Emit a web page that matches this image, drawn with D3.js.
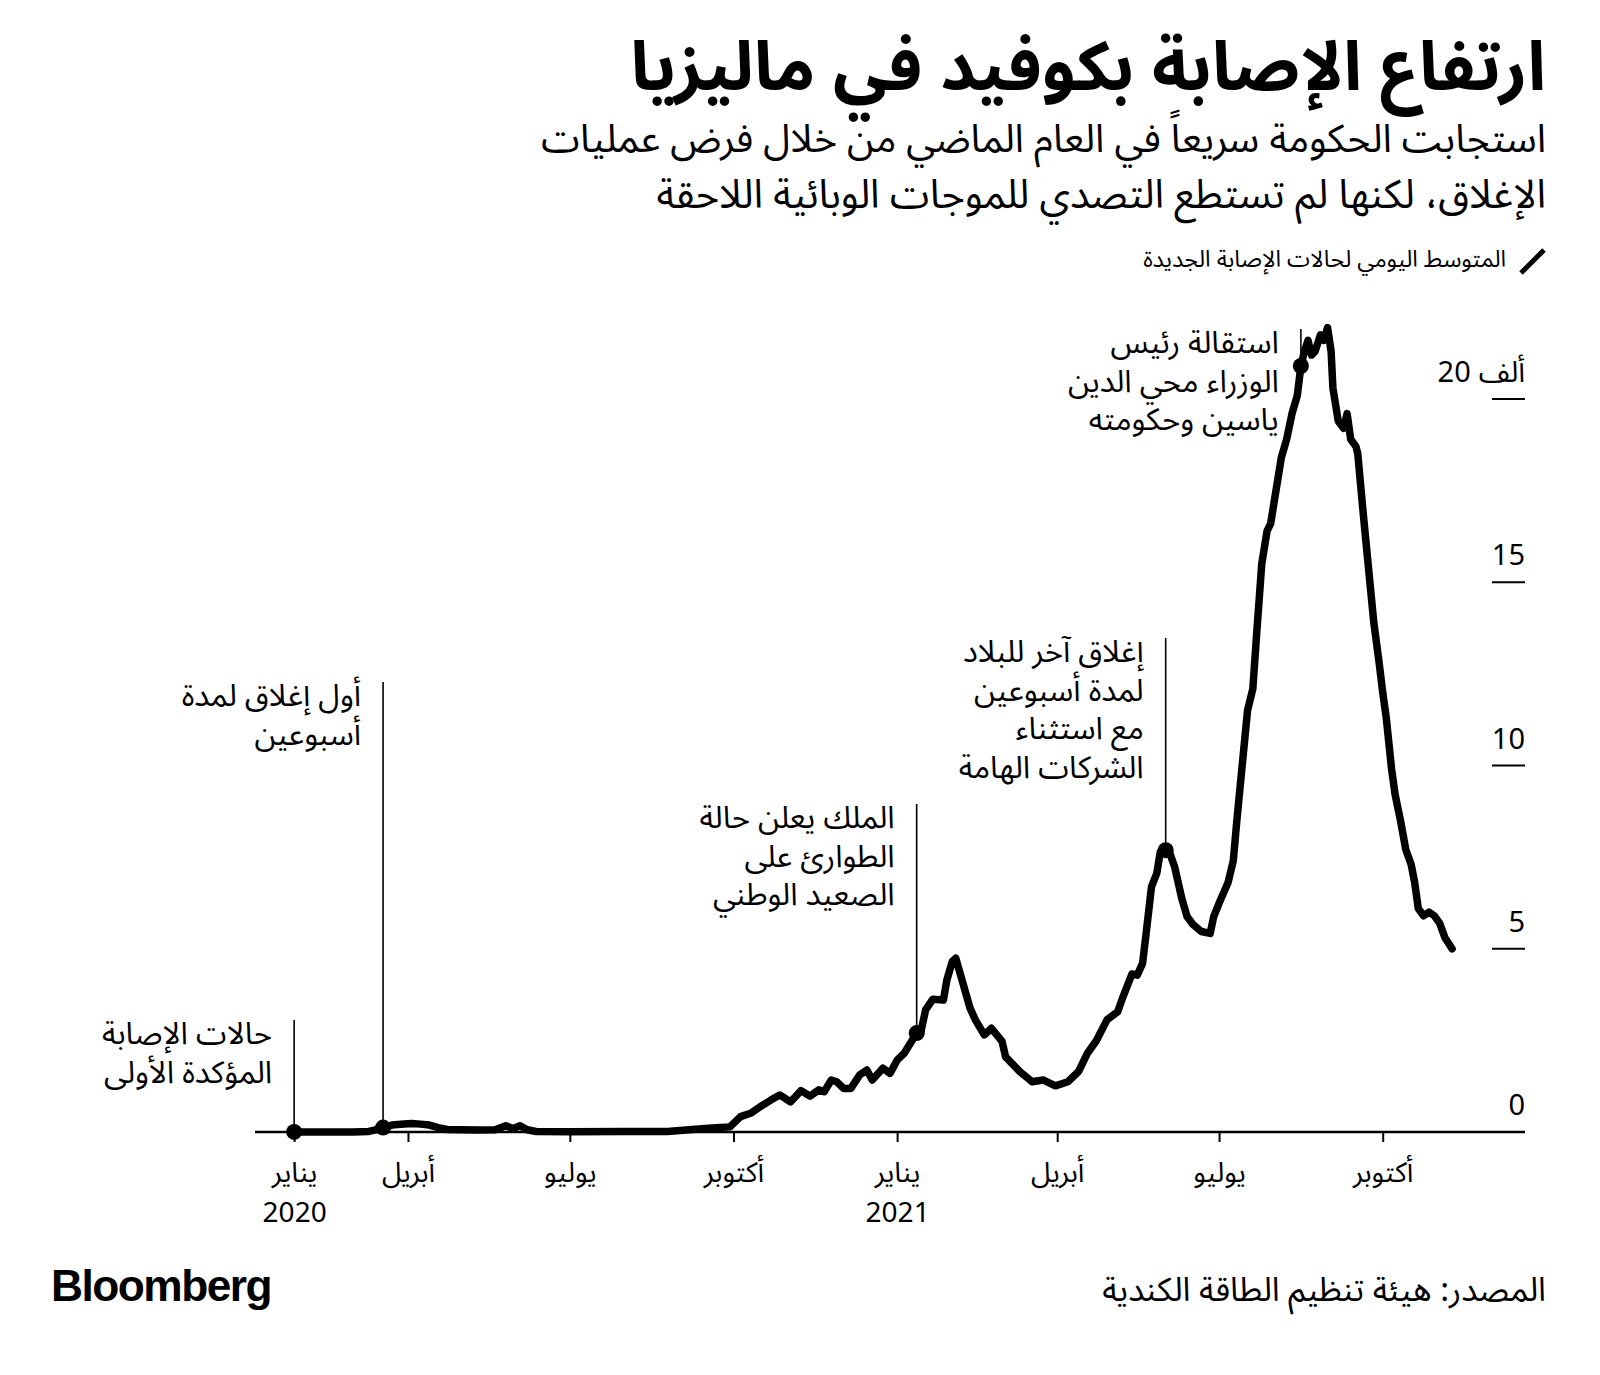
<!DOCTYPE html>
<html lang="ar">
<head>
<meta charset="utf-8">
<script src="https://cdn.jsdelivr.net/npm/d3@7"></script>
<style>
  body { margin: 0; background: #fff; }
  svg { display: block; }
  .ar { font-family: "Noto Sans Arabic", "Noto Sans", "DejaVu Sans", sans-serif; fill: #000; }
</style>
</head>
<body>
<svg id="chart"></svg>
<script>
// DATA (7-day average of new cases)
const dates = ["2020-01-28","2020-02-15","2020-03-01","2020-03-10","2020-03-15","2020-03-18","2020-03-23","2020-03-28",
  "2020-04-03","2020-04-08","2020-04-13","2020-04-18","2020-04-23","2020-05-10","2020-05-20","2020-05-26","2020-05-30",
  "2020-06-03","2020-06-07","2020-06-12","2020-07-01","2020-08-01","2020-08-25","2020-09-06","2020-09-19","2020-09-29",
  "2020-10-05","2020-10-11","2020-10-16","2020-10-22","2020-10-27","2020-11-02","2020-11-08","2020-11-13","2020-11-18",
  "2020-11-21","2020-11-25","2020-11-28","2020-12-02","2020-12-06","2020-12-11","2020-12-15","2020-12-18","2020-12-24",
  "2020-12-28","2021-01-01","2021-01-05","2021-01-12","2021-01-14","2021-01-17","2021-01-21","2021-01-27","2021-01-29",
  "2021-02-01","2021-02-03","2021-02-07","2021-02-11","2021-02-14","2021-02-19","2021-02-23","2021-03-01","2021-03-03",
  "2021-03-11","2021-03-18","2021-03-24","2021-03-31","2021-04-07","2021-04-13","2021-04-18","2021-04-23","2021-04-29",
  "2021-05-05","2021-05-08","2021-05-13","2021-05-16","2021-05-19","2021-05-21","2021-05-24","2021-05-27","2021-05-29",
  "2021-06-01","2021-06-03","2021-06-06","2021-06-10","2021-06-13","2021-06-16","2021-06-21","2021-06-26","2021-06-28",
  "2021-07-01","2021-07-06","2021-07-09","2021-07-11","2021-07-14","2021-07-17","2021-07-20","2021-07-22","2021-07-25",
  "2021-07-28","2021-07-30","2021-08-02","2021-08-05","2021-08-08","2021-08-11","2021-08-14","2021-08-16","2021-08-18",
  "2021-08-20","2021-08-22","2021-08-24","2021-08-27","2021-08-29","2021-08-31","2021-09-02","2021-09-03","2021-09-06",
  "2021-09-09","2021-09-11","2021-09-13","2021-09-16","2021-09-17","2021-09-20","2021-09-22","2021-09-26","2021-09-29",
  "2021-10-01","2021-10-03","2021-10-06","2021-10-08","2021-10-11","2021-10-14","2021-10-17","2021-10-19","2021-10-21",
  "2021-10-24","2021-10-27","2021-10-30","2021-11-02","2021-11-05","2021-11-09"];
const cases = [2,2,3,15,70,120,190,210,
  230,215,190,120,70,55,60,170,90,
  170,60,15,10,12,15,60,110,140,
  420,520,690,870,1010,820,1130,980,1150,
  1100,1420,1370,1190,1190,1560,1690,1420,1740,
  1600,1960,2150,2700,2650,3330,3620,3600,4150,
  4650,4740,4060,3380,3060,2650,2830,2470,2050,
  1650,1370,1420,1260,1370,1650,2150,2490,3060,
  3280,3690,4310,4280,4600,5420,6690,7060,7650,
  7690,7650,7240,6380,5880,5680,5470,5420,5880,
  6240,6800,7400,8500,10000,11500,12100,13500,15500,
  16400,16600,17500,18400,18900,19600,20100,20900,21300,
  21600,21200,21300,21750,21600,21950,21300,20300,19400,
  19200,19600,18900,18700,18500,16900,15900,13900,12800,
  12000,11300,9900,9200,8500,7700,7300,6800,6100,
  5900,6000,5900,5700,5300,5000];

const yTicks = [0, 5000, 10000, 15000, 20000];
const yTickLabels = ["0", "5", "10", "15", "20"];
const yUnit = "ألف";
const xTickDates = ["2020-01-28","2020-04-01","2020-07-01","2020-10-01","2021-01-01","2021-04-01","2021-07-01","2021-10-01"];
const xTickMonths = ["يناير","أبريل","يوليو","أكتوبر","يناير","أبريل","يوليو","أكتوبر"];
const xTickYears = ["2020","","","","2021","","",""];

const eventDates = ["2020-01-28","2020-03-18","2021-01-12","2021-06-01","2021-08-16"];
const eventLabels = [
  ["حالات الإصابة", "المؤكدة الأولى"],
  ["أول إغلاق لمدة", "أسبوعين"],
  ["الملك يعلن حالة", "الطوارئ على", "الصعيد الوطني"],
  ["إغلاق آخر للبلاد", "لمدة أسبوعين", "مع استثناء", "الشركات الهامة"],
  ["استقالة رئيس", "الوزراء محي الدين", "ياسين وحكومته"]
];
const leaderTops = [1020, 682, 804, 638, 329];

// SET VARIABLES
const width = 1600, height = 1375;
const parse = d3.timeParse("%Y-%m-%d");
const series = dates.map((d, i) => ({date: parse(d), value: cases[i]}));

const svg = d3.select("#chart").attr("width", width).attr("height", height);
svg.append("rect").attr("width", width).attr("height", height).attr("fill", "#fff");

const x = d3.scaleTime()
            .domain([parse("2020-01-06"), parse("2021-12-20")])
            .range([255, 1525]);
const y = d3.scaleLinear()
            .domain([0, 20000])
            .range([1132, 399]);

// scale a text's font size so it spans the wanted width
function fitWidth(sel, size, target) {
  sel.attr("font-size", size);
  const w = sel.node().getComputedTextLength();
  sel.attr("font-size", size * target / w);
}

// TITLES
const title = svg.append("text").attr("class", "ar")
   .attr("x", 1546).attr("y", 90)
   .attr("text-anchor", "end")
   .attr("font-weight", 700)
   .text("ارتفاع الإصابة بكوفيد في ماليزيا");
fitWidth(title, 70, 916);

const subLines = ["استجابت الحكومة سريعاً في العام الماضي من خلال فرض عمليات",
                  "الإغلاق، لكنها لم تستطع التصدي للموجات الوبائية اللاحقة"];
const subWidths = [1005, 890];
svg.selectAll(".sub").data(subLines).enter()
   .append("text").attr("class", "ar sub")
   .attr("x", 1546).attr("y", (d, i) => 152 + i * 56)
   .attr("text-anchor", "end")
   .text(d => d)
   .each(function(d, i) { fitWidth(d3.select(this), 40, subWidths[i]); });

// LEGEND
svg.append("line")
   .attr("x1", 1521).attr("y1", 273).attr("x2", 1544).attr("y2", 250)
   .attr("stroke", "#000").attr("stroke-width", 5);
const legendText = svg.append("text").attr("class", "ar")
   .attr("x", 1506).attr("y", 267)
   .attr("text-anchor", "end")
   .text("المتوسط اليومي لحالات الإصابة الجديدة");
fitWidth(legendText, 20, 363);

// Y AXIS
const yAxis = svg.append("g");
yAxis.selectAll("line").data(yTicks).enter()
     .append("line")
     .attr("x1", 1492).attr("x2", 1525)
     .attr("y1", d => y(d)).attr("y2", d => y(d))
     .attr("stroke", "#000").attr("stroke-width", 2);
const unit = yAxis.append("text").attr("class", "ar")
     .attr("x", 1525).attr("y", y(20000) - 17)
     .attr("text-anchor", "end")
     .attr("font-size", 29)
     .text(yUnit);
const unitW = unit.node().getComputedTextLength() + 8;
yAxis.selectAll(".ytl").data(yTicks).enter()
     .append("text").attr("class", "ar ytl")
     .attr("x", d => d === 20000 ? 1525 - unitW : 1525)
     .attr("y", d => y(d) - 17)
     .attr("text-anchor", "end")
     .attr("font-size", 29)
     .text((d, i) => yTickLabels[i]);

// X AXIS
svg.append("line")
   .attr("x1", 255).attr("x2", 1525)
   .attr("y1", y(0)).attr("y2", y(0))
   .attr("stroke", "#000").attr("stroke-width", 2.5);

const xAxis = d3.axisBottom(x)
                .tickValues(xTickDates.map(parse))
                .tickSize(10)
                .tickPadding(20)
                .tickFormat((d, i) => xTickMonths[i]);
const xg = svg.append("g")
              .attr("transform", `translate(0, ${y(0)})`)
              .call(xAxis);
xg.select(".domain").remove();
xg.selectAll(".tick line").attr("stroke", "#000").attr("stroke-width", 2);
xg.selectAll(".tick text")
  .attr("class", "ar")
  .attr("font-size", 28)
  .attr("font-family", null)
  .attr("fill", "#000");
xg.selectAll(".tick").append("text")
  .attr("class", "ar")
  .attr("y", 90)
  .attr("text-anchor", "middle")
  .attr("font-size", 28)
  .text((d, i) => xTickYears[i]);

// LINE
const line = d3.line()
               .x(d => x(d.date))
               .y(d => y(d.value));
svg.append("path")
   .datum(series)
   .attr("d", line)
   .attr("fill", "none")
   .attr("stroke", "#000")
   .attr("stroke-width", 7.5)
   .attr("stroke-linejoin", "round")
   .attr("stroke-linecap", "round");

// ANNOTATIONS
const valueAt = date => {
  const t = +parse(date);
  const found = series.find(d => +d.date === t);
  return found ? found.value : 0;
};
const ann = svg.append("g");
eventDates.forEach((d, i) => {
  const px = x(parse(d));
  const py = y(valueAt(d));
  ann.append("line")
     .attr("x1", px).attr("x2", px)
     .attr("y1", leaderTops[i]).attr("y2", py)
     .attr("stroke", "#000").attr("stroke-width", 1.6);
  ann.append("circle")
     .attr("cx", px).attr("cy", py).attr("r", 8)
     .attr("fill", "#000");
  ann.selectAll(null).data(eventLabels[i]).enter()
     .append("text").attr("class", "ar")
     .attr("x", px - 22)
     .attr("y", (t, j) => leaderTops[i] + 24 + j * 38.5)
     .attr("text-anchor", "end")
     .attr("font-size", 31)
     .text(t => t);
});

// FOOTER
const source = svg.append("text").attr("class", "ar")
   .attr("x", 1546).attr("y", 1301)
   .attr("text-anchor", "end")
   .text("المصدر: هيئة تنظيم الطاقة الكندية");
fitWidth(source, 30, 444);
svg.append("text")
   .attr("x", 51).attr("y", 1301)
   .attr("font-family", "'Liberation Sans', Arial, sans-serif")
   .attr("font-weight", 700)
   .attr("font-size", 44)
   .attr("letter-spacing", -1.5)
   .attr("textLength", 220).attr("lengthAdjust", "spacingAndGlyphs")
   .text("Bloomberg");
</script>
</body>
</html>
